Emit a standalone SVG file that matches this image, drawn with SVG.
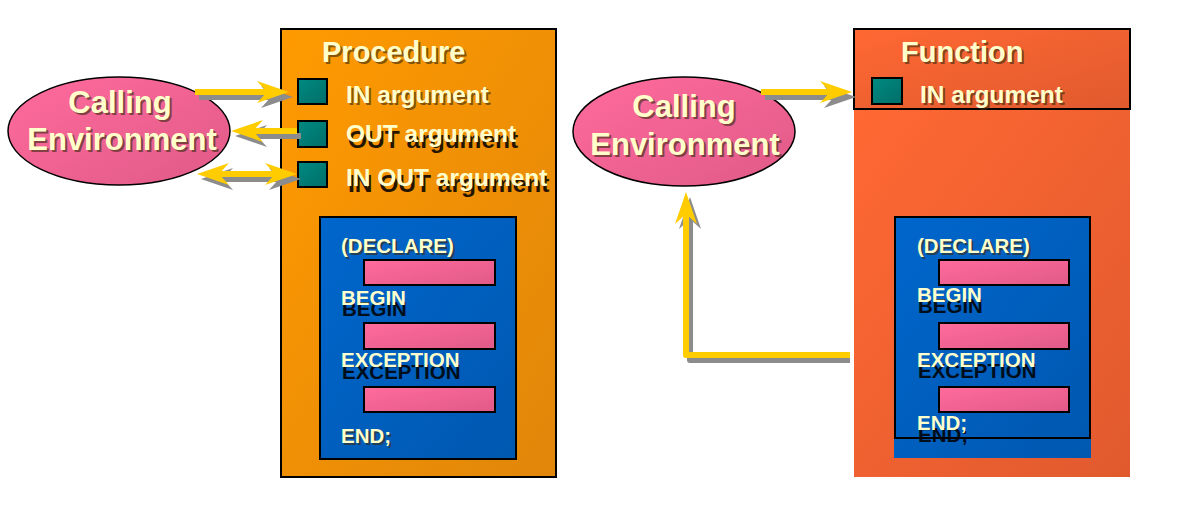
<svg xmlns="http://www.w3.org/2000/svg" width="1191" height="510" viewBox="0 0 1191 510">
<defs>
<linearGradient id="gProc" x1="0" y1="0" x2="1" y2="1"><stop offset="0" stop-color="#FF9A00"/><stop offset="1" stop-color="#E0860A"/></linearGradient>
<linearGradient id="gFunc" x1="0" y1="0" x2="1" y2="1"><stop offset="0" stop-color="#FF6833"/><stop offset="1" stop-color="#E05A2E"/></linearGradient>
<linearGradient id="gBlue" x1="0" y1="0" x2="1" y2="1"><stop offset="0" stop-color="#0066CC"/><stop offset="1" stop-color="#0058B0"/></linearGradient>
<linearGradient id="gPink" x1="0" y1="0" x2="1" y2="1"><stop offset="0" stop-color="#FF6B9D"/><stop offset="1" stop-color="#E05A88"/></linearGradient>
<linearGradient id="gTeal" x1="0" y1="0" x2="1" y2="1"><stop offset="0" stop-color="#008A80"/><stop offset="1" stop-color="#006E6A"/></linearGradient>
<marker id="ah" viewBox="-33 -12 35 24" refX="-20" refY="0" markerWidth="35" markerHeight="24" markerUnits="userSpaceOnUse" orient="auto-start-reverse"><path d="M0,0 L-32,-11 L-22,0 L-32,11 Z" fill="#FFCC00"/></marker>
<marker id="ahs" viewBox="-33 -12 35 24" refX="-20" refY="0" markerWidth="35" markerHeight="24" markerUnits="userSpaceOnUse" orient="auto-start-reverse"><path d="M0,0 L-32,-11 L-22,0 L-32,11 Z" fill="#8C8C8C"/></marker>
</defs>
<style>
text{font-family:"Liberation Sans",Arial,sans-serif;font-weight:bold}
.t{fill:#FFFFCC}
.sh{fill:#3a2a10;opacity:.6}
.shb{fill:#000000;opacity:.85}
.big{font-size:31px}
.title{font-size:29px}
.arg{font-size:24.5px}
.code{font-size:20.5px}
.mid{text-anchor:middle}
.ln{fill:none;stroke:#FFCC00;stroke-width:6;stroke-linejoin:round}
.lns{fill:none;stroke:#8C8C8C;stroke-width:6;stroke-linejoin:round}
.bx{stroke:#000;stroke-width:2}
.pk{fill:url(#gPink);stroke:#000;stroke-width:2}
.tl{fill:url(#gTeal);stroke:#000;stroke-width:2}
</style>
<rect width="1191" height="510" fill="#FFFFFF"/>

<g id="procedure">
<rect class="bx" x="281" y="29" width="275" height="448" fill="url(#gProc)"/>
<text class="title sh" x="324" y="64">Procedure</text>
<text class="title t" x="322" y="62">Procedure</text>
<rect class="tl" x="298" y="79" width="29" height="25"/>
<rect class="tl" x="298" y="121" width="29" height="26"/>
<rect class="tl" x="298" y="162" width="29" height="25"/>
<text class="arg sh" x="348" y="105">IN argument</text>
<text class="arg t" x="346" y="103">IN argument</text>
<text class="arg shb" x="348" y="148">OUT argument</text>
<text class="arg t" x="346" y="142">OUT argument</text>
<text class="arg shb" x="348" y="192">IN OUT argument</text>
<text class="arg t" x="346" y="186">IN OUT argument</text>
<rect class="bx" x="320" y="217" width="196" height="242" fill="url(#gBlue)"/>
<rect class="pk" x="364" y="260" width="131" height="25"/>
<rect class="pk" x="364" y="323" width="131" height="26"/>
<rect class="pk" x="364" y="387" width="131" height="25"/>
<text class="code sh" x="343" y="255">(DECLARE)</text>
<text class="code t" x="341" y="253">(DECLARE)</text>
<text class="code shb" x="342" y="316">BEGIN</text>
<text class="code t" x="341" y="305">BEGIN</text>
<text class="code shb" x="342" y="379">EXCEPTION</text>
<text class="code t" x="341" y="367">EXCEPTION</text>
<text class="code sh" x="343" y="445">END;</text>
<text class="code t" x="341" y="443">END;</text>
</g>

<g id="calling-env-1">
<ellipse cx="119" cy="131" rx="111" ry="54" fill="url(#gPink)" stroke="#000" stroke-width="1.5"/>
<text class="big sh mid" x="122" y="115">Calling</text>
<text class="big t mid" x="120" y="113">Calling</text>
<text class="big sh mid" x="124" y="152">Environment</text>
<text class="big t mid" x="122" y="150">Environment</text>
</g>

<g id="function">
<rect x="854" y="109" width="276" height="368" fill="url(#gFunc)"/>
<rect class="bx" x="854" y="29" width="276" height="80" fill="url(#gFunc)"/>
<text class="title sh" x="903" y="64">Function</text>
<text class="title t" x="901" y="62">Function</text>
<rect class="tl" x="872" y="78" width="30" height="26"/>
<text class="arg sh" x="922" y="105">IN argument</text>
<text class="arg t" x="920" y="103">IN argument</text>
<rect x="894" y="217" width="197" height="241" fill="url(#gBlue)"/>
<rect class="bx" x="895" y="217" width="195" height="221" fill="url(#gBlue)"/>
<rect class="pk" x="939" y="260" width="130" height="25"/>
<rect class="pk" x="939" y="323" width="130" height="26"/>
<rect class="pk" x="939" y="387" width="130" height="25"/>
<text class="code sh" x="919" y="255">(DECLARE)</text>
<text class="code t" x="917" y="253">(DECLARE)</text>
<text class="code shb" x="918" y="313">BEGIN</text>
<text class="code t" x="917" y="302">BEGIN</text>
<text class="code shb" x="918" y="378">EXCEPTION</text>
<text class="code t" x="917" y="367">EXCEPTION</text>
<text class="code shb" x="918" y="442">END;</text>
<text class="code t" x="917" y="430">END;</text>
</g>

<g id="calling-env-2">
<ellipse cx="684" cy="131.5" rx="111" ry="54.5" fill="url(#gPink)" stroke="#000" stroke-width="1.5"/>
<text class="big sh mid" x="686" y="119">Calling</text>
<text class="big t mid" x="684" y="117">Calling</text>
<text class="big sh mid" x="687" y="157">Environment</text>
<text class="big t mid" x="685" y="155">Environment</text>
</g>

<g id="connectors">
<g transform="translate(4,5)">
<path class="lns" d="M195,92 H269" marker-end="url(#ahs)"/>
<path class="lns" d="M297,131 H251" marker-end="url(#ahs)"/>
<path class="lns" d="M217,174 H277" marker-start="url(#ahs)" marker-end="url(#ahs)"/>
<path class="lns" d="M761,92 H832" marker-end="url(#ahs)"/>
<path class="lns" d="M846,355 H686 V212" marker-end="url(#ahs)"/>
</g>
<path class="ln" d="M195,92 H269" marker-end="url(#ah)"/>
<path class="ln" d="M297,131 H251" marker-end="url(#ah)"/>
<path class="ln" d="M217,174 H277" marker-start="url(#ah)" marker-end="url(#ah)"/>
<path class="ln" d="M761,92 H832" marker-end="url(#ah)"/>
<path class="ln" d="M850,355 H686 V212" marker-end="url(#ah)"/>
</g>
</svg>
